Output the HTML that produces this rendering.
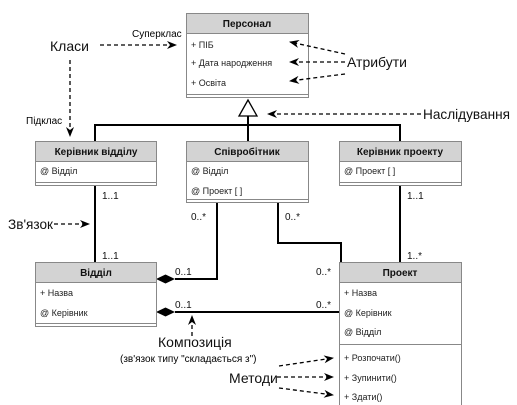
<!DOCTYPE html>
<html><head><meta charset="utf-8"><style>
html,body{margin:0;padding:0;background:#fff;width:517px;height:405px;overflow:hidden}
text{font-family:"Liberation Sans","DejaVu Sans",sans-serif}
.s{font-size:9px;fill:#222}
.b{font-size:10px;font-weight:bold;fill:#111}
.a{font-size:14px;fill:#111}
.m{font-size:10px;fill:#111}
</style></head><body>
<svg width="517" height="405" viewBox="0 0 517 405" xmlns="http://www.w3.org/2000/svg">
<defs>
<marker id="ar" markerWidth="10" markerHeight="8" refX="9" refY="4" orient="auto" markerUnits="userSpaceOnUse">
<path d="M0,0 L10,4 L0,8 L3,4 Z" fill="#000"/></marker>
</defs>
<g stroke="#000" stroke-width="2" fill="none">
<polyline points="95,143 95,125 400,125 400,143"/>
<line x1="248" y1="116" x2="248" y2="143"/>
<line x1="95" y1="185" x2="95" y2="262"/>
<polyline points="217,202 217,279 175,279"/>
<polyline points="278,202 278,243 341,243 341,262"/>
<line x1="400" y1="185" x2="400" y2="262"/>
<line x1="175" y1="312" x2="339" y2="312"/>
</g>
<polygon points="239,116 257,116 248,100" fill="#fff" stroke="#000" stroke-width="1.3"/>
<polygon points="156,279 165.5,274.5 175,279 165.5,283.5" fill="#000"/>
<polygon points="156,312 165.5,307.5 175,312 165.5,316.5" fill="#000"/>
<g stroke="#888" stroke-width="1">
<rect x="186.5" y="13.5" width="122" height="84" fill="#fff"/><rect x="186.5" y="13.5" width="122" height="20" fill="#d3d3d3"/>
<line x1="186.5" y1="94.5" x2="308.5" y2="94.5"/>
<rect x="35.5" y="141.5" width="121" height="44" fill="#fff"/><rect x="35.5" y="141.5" width="121" height="20" fill="#d3d3d3"/>
<line x1="35.5" y1="182.5" x2="156.5" y2="182.5"/>
<rect x="186.5" y="141.5" width="122" height="61" fill="#fff"/><rect x="186.5" y="141.5" width="122" height="20" fill="#d3d3d3"/>
<line x1="186.5" y1="199.5" x2="308.5" y2="199.5"/>
<rect x="339.5" y="141.5" width="122" height="44" fill="#fff"/><rect x="339.5" y="141.5" width="122" height="20" fill="#d3d3d3"/>
<line x1="339.5" y1="182.5" x2="461.5" y2="182.5"/>
<rect x="35.5" y="262.5" width="121" height="64" fill="#fff"/><rect x="35.5" y="262.5" width="121" height="20" fill="#d3d3d3"/>
<line x1="35.5" y1="323.5" x2="156.5" y2="323.5"/>
<rect x="339.5" y="262.5" width="122" height="150" fill="#fff"/><rect x="339.5" y="262.5" width="122" height="20" fill="#d3d3d3"/>
<line x1="339.5" y1="344.5" x2="461.5" y2="344.5"/>
</g>
<g text-anchor="middle">
<text class="b" x="247" y="27">Персонал</text>
<text class="b" x="96" y="155">Керівник відділу</text>
<text class="b" x="247" y="155">Співробітник</text>
<text class="b" x="400" y="155">Керівник проекту</text>
<text class="b" x="96" y="276">Відділ</text>
<text class="b" x="400" y="276">Проект</text>
</g>
<text class="s" x="191" y="48">+ ПІБ</text>
<text class="s" x="191" y="66">+ Дата народження</text>
<text class="s" x="191" y="86">+ Освіта</text>
<text class="s" x="40" y="174">@ Відділ</text>
<text class="s" x="191" y="174">@ Відділ</text>
<text class="s" x="191" y="194">@ Проект [ ]</text>
<text class="s" x="344" y="174">@ Проект [ ]</text>
<text class="s" x="40" y="296">+ Назва</text>
<text class="s" x="40" y="316">@ Керівник</text>
<text class="s" x="344" y="296">+ Назва</text>
<text class="s" x="344" y="316">@ Керівник</text>
<text class="s" x="344" y="335">@ Відділ</text>
<text class="s" x="344" y="361">+ Розпочати()</text>
<text class="s" x="344" y="381">+ Зупинити()</text>
<text class="s" x="344" y="400">+ Здати()</text>
<text class="m" x="102" y="199">1..1</text>
<text class="m" x="102" y="259">1..1</text>
<text class="m" x="191" y="220">0..*</text>
<text class="m" x="285" y="220">0..*</text>
<text class="m" x="407" y="199">1..1</text>
<text class="m" x="407" y="259">1..*</text>
<text class="m" x="175" y="275">0..1</text>
<text class="m" x="316" y="275">0..*</text>
<text class="m" x="175" y="308">0..1</text>
<text class="m" x="316" y="308">0..*</text>
<g stroke="#000" stroke-width="1.3" stroke-dasharray="4,3" fill="none" marker-end="url(#ar)">
<line x1="100" y1="45" x2="176" y2="45"/>
<line x1="70" y1="60" x2="70" y2="136"/>
<line x1="345" y1="54" x2="290" y2="42"/>
<line x1="345" y1="62" x2="290" y2="62"/>
<line x1="345" y1="74" x2="290" y2="81"/>
<line x1="421" y1="114" x2="268" y2="114"/>
<line x1="54" y1="224" x2="89" y2="224"/>
<line x1="192" y1="336" x2="192" y2="316"/>
<line x1="279" y1="366" x2="333" y2="358"/>
<line x1="277" y1="377" x2="333" y2="377"/>
<line x1="279" y1="388" x2="333" y2="395"/>
</g>
<text class="a" x="50" y="51">Класи</text>
<text style="font-size:10px" x="132" y="37">Суперклас</text>
<text style="font-size:10px" x="26" y="124">Підклас</text>
<text class="a" x="347" y="67">Атрибути</text>
<text class="a" x="423" y="119" textLength="87" lengthAdjust="spacingAndGlyphs">Наслідування</text>
<text class="a" x="8" y="229" textLength="45" lengthAdjust="spacingAndGlyphs">Зв'язок</text>
<text class="a" x="158" y="347">Композиція</text>
<text style="font-size:10px" x="120" y="362">(зв'язок типу "складається з")</text>
<text class="a" x="229" y="383">Методи</text>
</svg>
</body></html>
